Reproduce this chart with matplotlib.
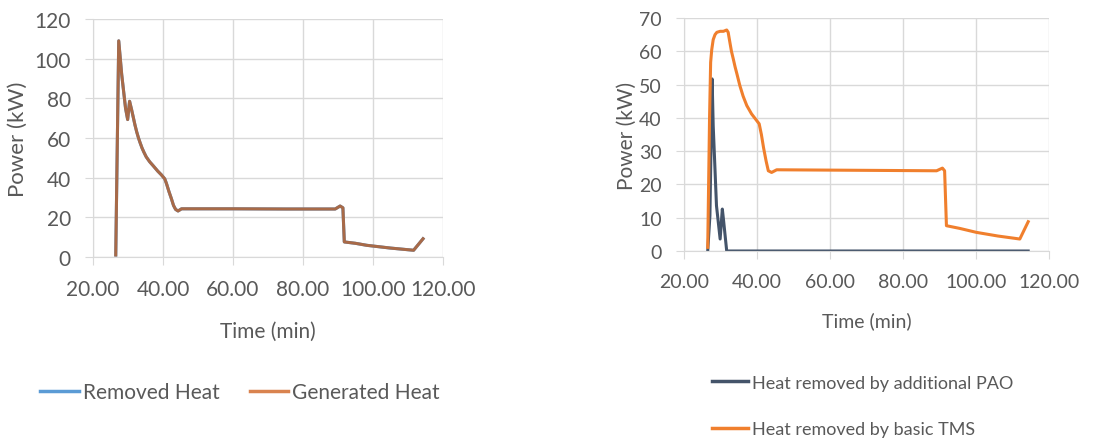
import matplotlib.pyplot as plt
from matplotlib.lines import Line2D

plt.rcParams['font.family'] = ['Lato', 'DejaVu Sans']

# left chart: generated / removed heat (identical curves)
t_gen = [26.5, 27.35, 28.2, 29.3, 29.9, 30.45, 31.0, 31.5, 32.0, 32.5, 33.0, 33.4,
         34.0, 34.5, 35.2, 36.2, 37.2, 38.5, 39.5, 40.5, 41.0, 41.7, 42.4, 43.0,
         43.6, 44.3, 45.3, 60.0, 75.0, 89.2, 90.6, 91.4, 91.8, 95.0, 98.2, 105.0,
         111.6, 114.3]
p_gen = [1.0, 109.0, 92.0, 75.0, 69.3, 78.5, 74.5, 70.5, 66.5, 63.0, 60.0, 57.9,
         55.0, 53.0, 50.5, 48.0, 46.0, 43.3, 41.5, 39.4, 37.0, 33.0, 29.4, 26.0,
         24.0, 23.2, 24.3, 24.3, 24.2, 24.2, 25.7, 24.8, 7.6, 6.9, 5.9, 4.5,
         3.4, 9.2]
p_rem = p_gen

# right chart
t_tms = [26.5, 27.0, 27.3, 27.6, 28.0, 28.5, 29.0, 29.9, 30.8, 31.7, 32.1, 32.6,
         33.0, 33.5, 34.0, 34.5, 35.3, 36.2, 37.2, 38.5, 39.9, 40.6, 41.2, 41.8,
         42.5, 43.1, 44.0, 45.4, 60.0, 75.0, 89.2, 90.8, 91.4, 91.9, 95.5, 100.1,
         106.0, 112.0, 114.3]
p_tms = [1.1, 40.0, 56.7, 60.5, 63.5, 65.0, 65.7, 66.0, 66.0, 66.4, 65.7, 62.5,
         60.0, 57.7, 55.3, 53.2, 49.7, 46.5, 43.7, 41.2, 39.2, 38.2, 35.0, 31.0,
         27.0, 24.1, 23.6, 24.4, 24.3, 24.2, 24.1, 24.9, 24.1, 7.6, 6.8, 5.6,
         4.5, 3.6, 8.8]
t_pao = [26.5, 27.1, 27.7, 28.0, 28.9, 29.9, 30.5, 30.8, 31.7, 114.3]
p_pao = [0.0, 10.6, 51.7, 37.6, 13.6, 3.6, 12.6, 9.6, 0.0, 0.0]

xticks = [20, 40, 60, 80, 100, 120]
text_c = '#595959'
grid_c = '#D9D9D9'

fig = plt.figure(figsize=(11.14, 4.39), dpi=100)
W, H = 1114, 439


def style(ax, ymax, ystep, fs):
    ax.set_xlim(20, 120)
    ax.set_ylim(0, ymax)
    ax.set_xticks(xticks)
    ax.set_xticklabels(['%.2f' % v for v in xticks])
    ax.set_yticks(range(0, ymax + 1, ystep))
    ax.grid(True, color=grid_c, linewidth=1)
    ax.set_axisbelow(True)
    for s in ['top', 'right']:
        ax.spines[s].set_visible(False)
    for s in ['left', 'bottom']:
        ax.spines[s].set_color(grid_c)
    ax.tick_params(colors=text_c, labelsize=fs, length=6, color=grid_c, pad=10)
    ax.set_xlabel('Time (min)', color=text_c, fontsize=fs)
    ax.set_ylabel('Power (kW)', color=text_c, fontsize=fs + 1)


ax1 = fig.add_axes([93 / W, 1 - 258 / H, 350 / W, 238 / H])
ax1.plot(t_gen, p_rem, color='#5B9BD5', lw=2.2)
ax1.plot(t_gen, p_gen, color='#A86A48', lw=2.2)
style(ax1, 120, 20, 15)
ax1.xaxis.set_label_coords(0.5, -0.27)
ax1.yaxis.set_label_coords(-0.186, 0.5)
h1 = [Line2D([], [], color='#5B9BD5', lw=2.5), Line2D([], [], color='#D9834F', lw=2.5)]
fig.legend(h1, ['Removed Heat', 'Generated Heat'], loc='center', ncol=2,
           bbox_to_anchor=(240 / W, 1 - 393 / H), frameon=False, fontsize=15,
           labelcolor=text_c, handlelength=1.85, handletextpad=0.2, columnspacing=1.45)

ax2 = fig.add_axes([684 / W, 1 - 252 / H, 365 / W, 233 / H])
ax2.plot(t_pao, p_pao, color='#44546A', lw=2.2)
ax2.plot(t_tms, p_tms, color='#F07F2D', lw=2.2)
style(ax2, 70, 10, 14)
ax2.xaxis.set_label_coords(0.5, -0.26)
ax2.yaxis.set_label_coords(-0.129, 0.5)
h2 = [Line2D([], [], color='#44546A', lw=2.5), Line2D([], [], color='#F07F2D', lw=2.5)]
fig.legend(h2, ['Heat removed by additional PAO', 'Heat removed by basic TMS'],
           loc='upper left', bbox_to_anchor=(708 / W, 1 - 372 / H), frameon=False,
           fontsize=13, labelcolor=text_c, handlelength=2.0, handletextpad=0.25,
           labelspacing=1.7, borderaxespad=0, borderpad=0.2)

fig.savefig('out.png', dpi=100)
